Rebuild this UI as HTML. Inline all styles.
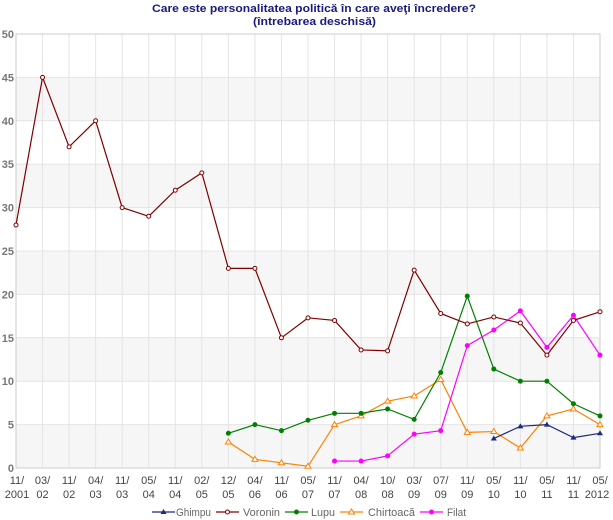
<!DOCTYPE html><html><head><meta charset="utf-8"><style>body{margin:0;background:#fff}svg{display:block;font-family:"Liberation Sans","DejaVu Sans",sans-serif}</style></head><body>
<svg id="s" width="613" height="520" xmlns="http://www.w3.org/2000/svg">
<text x="152" y="12" font-size="11" font-weight="bold" fill="#1a1a80" textLength="324" lengthAdjust="spacingAndGlyphs">Care este personalitatea politică în care aveţi încredere?</text>
<text x="253" y="25" font-size="11" font-weight="bold" fill="#1a1a80" textLength="123" lengthAdjust="spacingAndGlyphs">(întrebarea deschisă)</text>
</svg>
<script>
const s=document.getElementById('s'),NS='http://www.w3.org/2000/svg';
function el(t,a,txt){const e=document.createElementNS(NS,t);for(const k in a)e.setAttribute(k,a[k]);if(txt!==undefined)e.textContent=txt;s.appendChild(e);return e;}
const L=16,R=600,T=34,B=468,n=23,dx=(R-L)/(n-1);
const X=i=>L+i*dx,Y=v=>B-v*(B-T)/50;
for(let k=0;k<10;k+=2)el('rect',{x:L,y:Y(k*5+5),width:R-L,height:Y(0)-Y(5),fill:'#f6f6f6'});
for(let k=0;k<=10;k++)el('line',{x1:L,x2:R,y1:Y(k*5),y2:Y(k*5),stroke:'#e4e4e4'});
for(let i=0;i<n;i++)el('line',{x1:X(i),x2:X(i),y1:T,y2:B,stroke:'#e4e4e4'});
el('rect',{x:L,y:T,width:R-L,height:B-T,fill:'none',stroke:'#ccc'});
for(let k=0;k<=10;k++)el('text',{x:14,y:Y(k*5)+4,'text-anchor':'end','font-size':'11','font-weight':'bold',fill:'#777'},k*5);
const labs=['11/|2001','03/|02','11/|02','04/|03','11/|03','05/|04','11/|04','02/|05','12/|05','04/|06','11/|06','05/|07','11/|07','04/|08','10/|08','03/|09','07/|09','11/|09','05/|10','11/|10','05/|11','11/|11','05/|2012'];
labs.forEach((l,i)=>{const[a,b]=l.split('|');el('text',{x:X(i)+(i==0?1:0),y:484,'text-anchor':'middle','font-size':'11',fill:'#444'},a);el('text',{x:X(i)-(i==22?3:0)+(i==0?1:0),y:498,'text-anchor':'middle','font-size':'11',fill:'#444'},b);});
const series=[
['#ff8000',8,[3,1,0.6,0.2,5,6,7.7,8.3,10.2,4.1,4.2,2.3,6,6.8,5],'tri'],
['#008000',8,[4,5,4.3,5.5,6.3,6.3,6.8,5.6,11,19.8,11.4,10,10,7.4,6],'dot'],
['#ff00ff',12,[0.8,0.8,1.4,3.9,4.3,14.1,15.9,18.1,13.9,17.6,13],'dot'],
['#800000',0,[28,45,37,40,30,29,32,34,23,23,15,17.3,17,13.6,13.5,22.8,17.8,16.6,17.4,16.7,13,17,18],'circ'],
['#1a2a80',18,[3.4,4.8,5,3.5,4],'fill']];
function mark(c,t,x,y){if(t=='dot')el('circle',{cx:x,cy:y,r:2.5,fill:c});else if(t=='circ')el('circle',{cx:x,cy:y,r:2,fill:'#fff',stroke:c});else if(t=='tri')el('path',{d:`M${x} ${y-3}L${x+3} ${y+2}L${x-3} ${y+2}Z`,fill:'#fff',stroke:c});else el('path',{d:`M${x} ${y-3}L${x+3} ${y+2}L${x-3} ${y+2}Z`,fill:c});}
series.forEach(([c,st,d,t])=>{el('polyline',{points:d.map((v,i)=>X(st+i)+','+Y(v)).join(' '),fill:'none',stroke:c,'stroke-width':1.2});d.forEach((v,i)=>mark(c,t,X(st+i),Y(v)));});
const leg=[['Ghimpu','#1a2a80','fill',152,176,35],['Voronin','#800000','circ',216,243,37],['Lupu','#008000','dot',285,311,24],['Chirtoacă','#ff8000','tri',340,368,47],['Filat','#ff00ff','dot',420,447,19]];
leg.forEach(([nm,c,t,x,tx,w])=>{el('line',{x1:x,x2:x+23,y1:512,y2:512,stroke:c,'stroke-width':1.2});mark(c,t,x+11.5,512);el('text',{x:tx,y:516,'font-size':'11',fill:'#666',textLength:w,lengthAdjust:'spacingAndGlyphs'},nm);});
</script></body></html>
